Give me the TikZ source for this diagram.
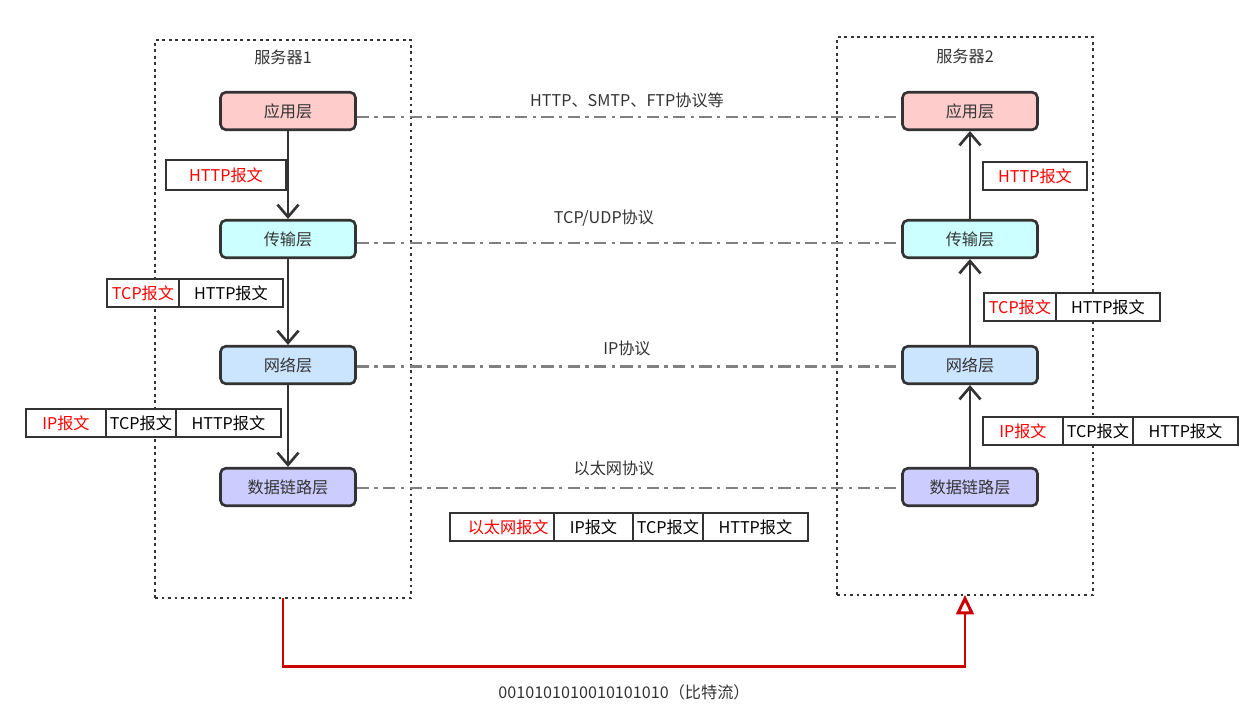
\documentclass[tikz,border=0pt]{standalone}
\usepackage{fontspec}
\setmainfont{Noto Sans CJK SC}
\usetikzlibrary{arrows.meta}
\usetikzlibrary{positioning}

\definecolor{ink}{HTML}{333333}
\definecolor{appfill}{HTML}{FFCCCC}
\definecolor{tranfill}{HTML}{CCFFFF}
\definecolor{netfill}{HTML}{CCE5FF}
\definecolor{linkfill}{HTML}{CCCCFF}
\definecolor{protogray}{HTML}{808080}
\definecolor{bitred}{HTML}{CC0000}

\tikzset{
  server/.style={draw=ink,line width=1.6pt,dash pattern=on 1.6pt off 2.1pt,minimum width=5.12cm,minimum height=11.16cm,outer sep=0pt},
  layer/.style={draw=ink,line width=1.5pt,rounded corners=3pt,minimum width=2.7cm,minimum height=0.75cm,text=ink},
  cell/.style={draw=ink,fill=white,line width=1.5pt,minimum height=0.56cm,inner sep=0pt,outer sep=0pt,text=black},
  redcell/.style={cell,text=red},
  proto/.style={protogray,line width=1.5pt,dash pattern=on 7pt off 3pt on 2pt off 3pt},
  flow/.style={ink,line width=1.5pt,-{Straight Barb[length=7pt,width=12pt,line width=1.5pt]}},
  lbl/.style={text=ink}
}

\begin{document}
\begin{tikzpicture}[x=0.02cm,y=-0.02cm,font=\fontsize{9.2}{11}\selectfont]
\useasboundingbox (0,0) rectangle (1259,714);

\node[server] (s1) at (283,319) {};
\node[server] (s2) at (965,316) {};
\node[lbl] (t1) at (283,57) {服务器1};
\node[lbl] (t2) at (965,56) {服务器2};

\node[layer,fill=appfill]  (a1) at (288,111) {应用层};
\node[layer,fill=tranfill] (a2) at (288,239) {传输层};
\node[layer,fill=netfill]  (a3) at (288,365) {网络层};
\node[layer,fill=linkfill] (a4) at (288,487) {数据链路层};

\node[layer,fill=appfill]  (b1) at (970,111) {应用层};
\node[layer,fill=tranfill] (b2) at (970,239) {传输层};
\node[layer,fill=netfill]  (b3) at (970,365) {网络层};
\node[layer,fill=linkfill] (b4) at (970,487) {数据链路层};

\draw[proto] ([yshift=-0.12cm]a1.east) -- ([yshift=-0.12cm]b1.west);
\draw[proto] ([yshift=-0.08cm]a2.east) -- ([yshift=-0.08cm]b2.west);
\draw[proto] ([yshift=-0.03cm]a3.east) -- ([yshift=-0.03cm]b3.west);
\draw[proto] ([yshift=-0.02cm]a4.east) -- ([yshift=-0.02cm]b4.west);
\node[lbl] (p1) at (627,100) {HTTP、SMTP、FTP协议等};
\node[lbl] (p2) at (604,218) {TCP/UDP协议};
\node[lbl] (p3) at (627,348) {IP协议};
\node[lbl] (p4) at (614,468) {以太网协议};

\draw[flow] (a1) -- (a2);
\draw[flow] (a2) -- (a3);
\draw[flow] (a3) -- (a4);
\draw[flow] (b4) -- (b3);
\draw[flow] (b3) -- (b2);
\draw[flow] (b2) -- (b1);

% left side
\node[redcell,minimum width=2.4cm,minimum height=0.6cm,anchor=west] (l1a) at (166,175) {HTTP报文};

\node[redcell,minimum width=1.44cm,anchor=west] (l2a) at (107,293) {TCP报文};
\node[cell,minimum width=2.08cm,right=0pt of l2a] (l2b) {HTTP报文};

\node[redcell,minimum width=1.6cm,anchor=west] (l3a) at (26,423) {IP报文};
\node[cell,minimum width=1.4cm,right=0pt of l3a] (l3b) {TCP报文};
\node[cell,minimum width=2.1cm,right=0pt of l3b] (l3c) {HTTP报文};

% bottom
\node[redcell,minimum width=2.08cm,anchor=west] (m1) at (450,527) {\hspace{0.25cm}以太网报文};
\node[cell,minimum width=1.58cm,right=0pt of m1] (m2) {IP报文};
\node[cell,minimum width=1.4cm,right=0pt of m2] (m3) {TCP报文};
\node[cell,minimum width=2.1cm,right=0pt of m3] (m4) {HTTP报文};

% right side
\node[redcell,minimum width=2.08cm,anchor=west] (r1a) at (983,176) {HTTP报文};

\node[redcell,minimum width=1.44cm,anchor=west] (r2a) at (984,307) {TCP报文};
\node[cell,minimum width=2.08cm,right=0pt of r2a] (r2b) {HTTP报文};

\node[redcell,minimum width=1.6cm,anchor=west] (r3a) at (983,431) {IP报文};
\node[cell,minimum width=1.4cm,right=0pt of r3a] (r3b) {TCP报文};
\node[cell,minimum width=2.1cm,right=0pt of r3b] (r3c) {HTTP报文};

\draw[bitred,line width=1.7pt,-{Triangle[open,length=11pt,width=10pt,line width=1.7pt]}] (s1.south) -- ++(0,69) -| (s2.south);
\node[lbl] (bits) at (624,692) {0010101010010101010（比特流）};

\end{tikzpicture}
\end{document}
